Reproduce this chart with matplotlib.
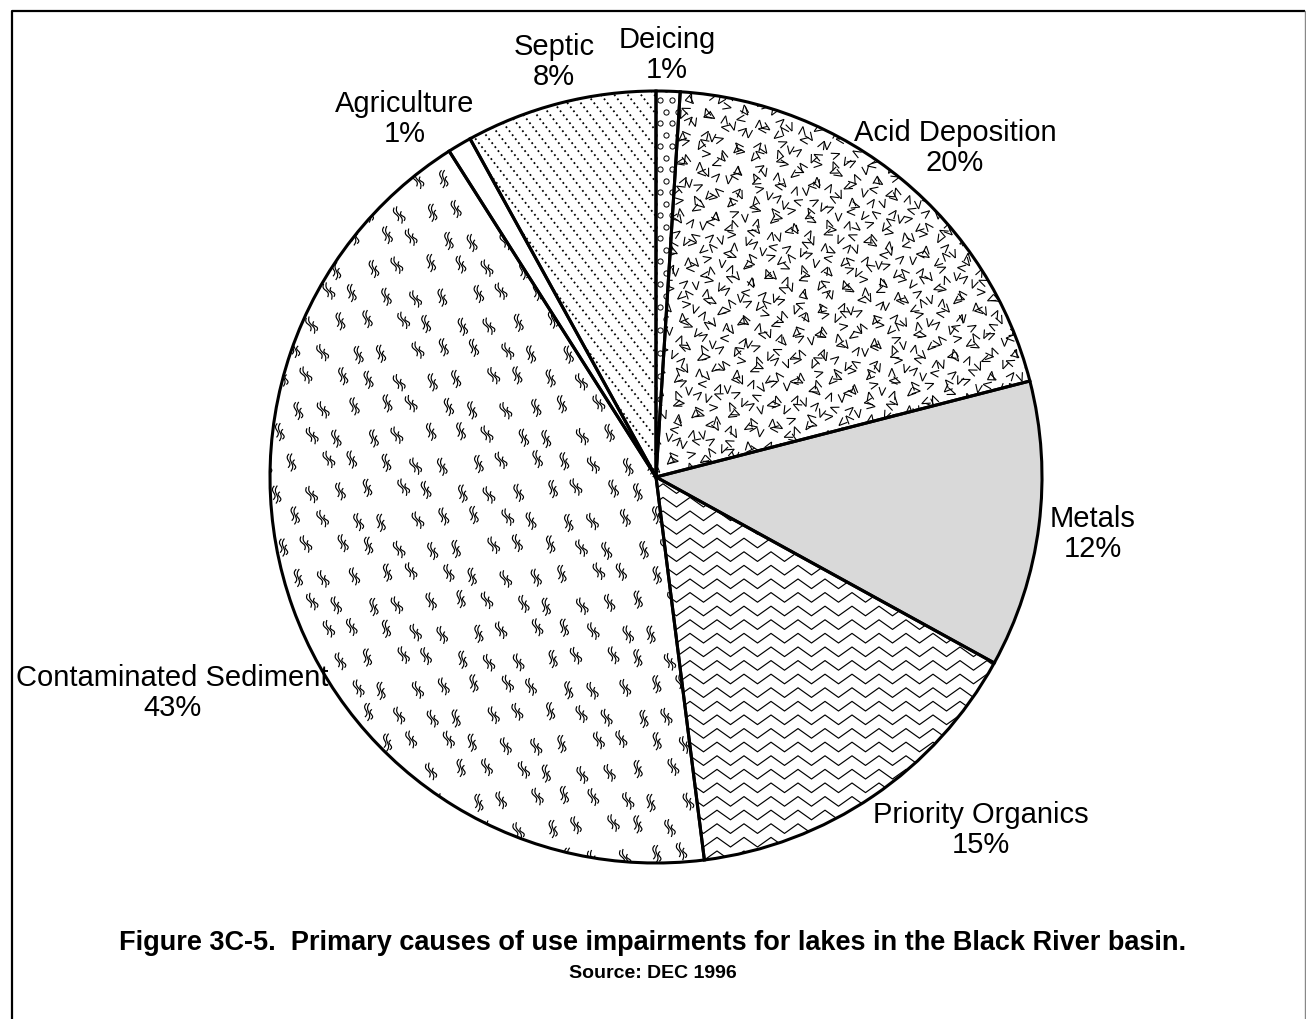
import numpy as np
import matplotlib.pyplot as plt
from matplotlib.patches import Wedge
from matplotlib.collections import LineCollection

plt.rcParams['font.family'] = ['Liberation Sans', 'DejaVu Sans']

# data, clockwise from 12 o'clock
causes = ['Deicing', 'Acid Deposition', 'Metals', 'Priority Organics',
          'Contaminated Sediment', 'Agriculture', 'Septic']
percent = [1, 20, 12, 15, 43, 1, 8]

W, H = 1306, 1019
fig = plt.figure(figsize=(W / 100, H / 100), dpi=100)
ax = fig.add_axes([0, 0, 1, 1])

cx, cy, R = 656, H - 477, 386

fills = ['white', 'white', '#d9d9d9', 'white', 'white', 'white', 'white']
wedges, _ = ax.pie(percent, startangle=90, counterclock=False, colors=fills,
                   center=(cx, cy), radius=R, frame=True,
                   wedgeprops=dict(edgecolor='none', linewidth=0))
ax.set_xlim(0, W)
ax.set_ylim(0, H)
ax.set_aspect('equal')
ax.axis('off')

wd = dict(zip(causes, wedges))


def clipped(coll, wedge):
    coll.set_clip_path(wedge)
    coll.set_zorder(2)
    ax.add_collection(coll)


# Deicing: small circles
w = wd['Deicing']
pts = []
for j, yy in enumerate(np.arange(cy - 60, cy + R + 10, 11.5)):
    off = 0 if j % 2 == 0 else 6
    for xx in np.arange(cx - 20 + off, cx + 40, 12):
        pts.append((xx, yy))
pts = np.array(pts)
sc = ax.scatter(pts[:, 0], pts[:, 1], s=14, facecolor='white', edgecolor='black',
                linewidth=0.7, zorder=2)
sc.set_clip_path(w)

# Acid Deposition: scattered V marks
w = wd['Acid Deposition']
segs = []
k = 0
for j, yy in enumerate(np.arange(cy - 20, cy + R + 20, 11.5)):
    for i, xx in enumerate(np.arange(cx - 20 + (j % 2) * 6, cx + R + 20, 12)):
        k += 1
        jx = 2.5 * np.sin(k * 12.9898)
        jy = 2.5 * np.sin(k * 78.233)
        rot = (k * 137.5 + 40 * np.sin(k * 0.7)) % 360
        ax0, ay0 = xx + jx, yy + jy
        for da in (-22, 22):
            a = np.radians(rot + da)
            segs.append([(ax0, ay0), (ax0 + 9 * np.cos(a), ay0 + 9 * np.sin(a))])
clipped(LineCollection(segs, colors='black', linewidths=0.8), w)

# Priority Organics: zigzag lines
w = wd['Priority Organics']
segs = []
period, amp = 27, 4.8
xs = np.arange(cx - 20, cx + R + 20, period / 2)
for yy in np.arange(cy - R - 20, cy + 20, 13.6):
    ys = yy + np.where((np.arange(len(xs)) % 2) == 0, amp, -amp)
    segs.append(np.column_stack([xs, ys]))
clipped(LineCollection(segs, colors='black', linewidths=0.85), w)

# Contaminated Sediment: small squiggles
w = wd['Contaminated Sediment']
segs = []
t = np.linspace(-1, 1, 16)
k = 0
for j, yy in enumerate(np.arange(cy - R - 20, cy + R + 20, 28)):
    for i, xx in enumerate(np.arange(cx - R - 20 + (j % 2) * 15, cx + 40, 30)):
        k += 1
        px = xx + 4 * np.sin(k * 3.7)
        py = yy + 4 * np.sin(k * 5.3)
        tilt = np.radians(95 + 12 * np.sin(k * 2.1))
        ux, uy = np.cos(tilt), np.sin(tilt)
        nx, ny = -uy, ux
        for off, ln, sh in ((-3.0, 5.0, -2.0), (0, 9.0, 0), (3.0, 7.0, 1.5)):
            along = sh + t * ln
            side = off + 1.6 * np.sin(t * np.pi)
            segs.append(np.column_stack([px + along * ux + side * nx,
                                         py + along * uy + side * ny]))
clipped(LineCollection(segs, colors='black', linewidths=0.85), w)

# Septic: dotted diagonal lines
w = wd['Septic']
segs = []
ang = np.radians(-52)
dx, dy = np.cos(ang), np.sin(ang)
for c in np.arange(-900, 900, 10.5):
    p0 = np.array([cx, cy]) + c * np.array([-dy, dx])
    segs.append([p0 - 600 * np.array([dx, dy]), p0 + 600 * np.array([dx, dy])])
clipped(LineCollection(segs, colors='black', linewidths=1.3,
                       linestyles=(0, (1.0, 1.8))), w)

# outlines on top
for w in wedges:
    ax.add_patch(Wedge(w.center, w.r, w.theta1, w.theta2, fill=False,
                       edgecolor='black', linewidth=2.2, zorder=4))

# labels
label_pos = {
    'Deicing': (667, 55), 'Acid Deposition': (955, 148), 'Metals': (1093, 534),
    'Priority Organics': (981, 830), 'Contaminated Sediment': (172, 693),
    'Agriculture': (405, 119), 'Septic': (554, 62),
}
for name, p in zip(causes, percent):
    lx, ly = label_pos[name]
    ax.text(lx, H - ly, f'{name}\n{p}%', ha='center', va='center',
            fontsize=21, linespacing=1.13)

ax.text(653, H - 943, 'Figure 3C-5.  Primary causes of use impairments for lakes in the Black River basin.',
        ha='center', va='center', fontsize=19.5, fontweight='bold')
ax.text(653, H - 974, 'Source: DEC 1996', ha='center', va='center',
        fontsize=14, fontweight='bold')

# border
ax.plot([11.5, 11.5, 1305], [0, H - 10.5, H - 10.5], color='black', lw=1.6,
        solid_capstyle='butt')
ax.plot([1305, 1305], [H - 10.5, 0], color='#888888', lw=1.0)

fig.savefig('out.png', dpi=100)
